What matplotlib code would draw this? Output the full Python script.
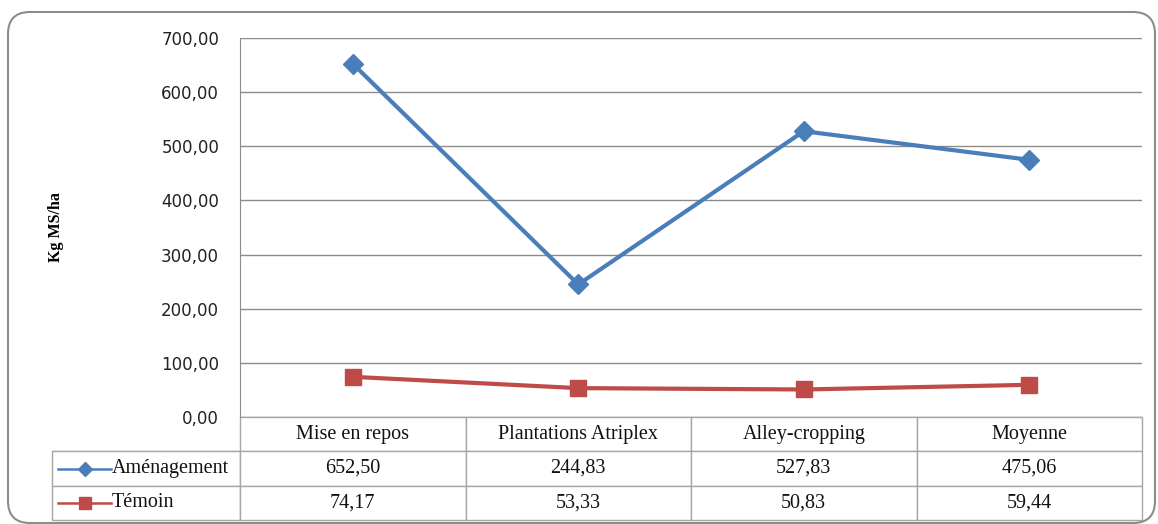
import matplotlib.pyplot as plt
import matplotlib.ticker as mticker
from matplotlib.patches import FancyBboxPatch
from matplotlib.lines import Line2D
from matplotlib.transforms import IdentityTransform

# Data
categories = ["Mise en repos", "Plantations Atriplex", "Alley-cropping", "Moyenne"]
amenagement = [652.50, 244.83, 527.83, 475.06]
temoin = [74.17, 53.33, 50.83, 59.44]
series_names = ["Aménagement", "Témoin"]
y_ticks = [0, 100, 200, 300, 400, 500, 600, 700]

blue = "#4a7ebb"
red = "#be4b48"
grid_col = "#8c8c8c"
W, H = 1158, 524

fig = plt.figure(figsize=(W / 100, H / 100), dpi=100)

# rounded chart frame (pixel coords, y from bottom)
frame = FancyBboxPatch((8, H - 523), 1147, 511,
                       boxstyle="round,pad=0,rounding_size=22",
                       transform=IdentityTransform(), fill=False,
                       edgecolor="#8c8c8c", linewidth=1.5)
fig.patches.append(frame)

ax = fig.add_axes([240 / W, 1 - 417 / H, 902 / W, 379 / H])
x = range(len(categories))
ax.plot(x, amenagement, color=blue, lw=3, marker="D", ms=10, zorder=3)
ax.plot(x, temoin, color=red, lw=3, marker="s", ms=11, zorder=3)

ax.set_xlim(-0.5, len(categories) - 0.5)
ax.set_ylim(0, 700)
ax.set_yticks(y_ticks)
ax.yaxis.set_major_formatter(mticker.FuncFormatter(lambda v, p: f"{v:.2f}".replace(".", ",")))
ax.tick_params(axis="y", length=0, pad=15, labelsize=12, labelcolor="#222222")
ax.set_xticks([])
ax.grid(axis="y", color=grid_col, lw=1)
for s in ["top", "right", "bottom"]:
    ax.spines[s].set_visible(False)
ax.spines["left"].set_color(grid_col)
ax.set_ylabel("Kg MS/ha", family="Liberation Serif", fontweight="bold", fontsize=11.5)
ax.yaxis.set_label_coords((64 - 240) / 902, 0.5)

# data table below the plot, first column holds the series names
cell_text = [[series_names[0]] + [f"{v:.2f}".replace(".", ",") for v in amenagement],
             [series_names[1]] + [f"{v:.2f}".replace(".", ",") for v in temoin]]
tab = ax.table(cellText=cell_text, colLabels=[""] + categories,
               colWidths=[188 / 902] + [225.5 / 902] * 4, cellLoc="center",
               bbox=[-188 / 902, -103 / 379, 1 + 188 / 902, 103 / 379])
tab.auto_set_font_size(False)
for (r, c), cell in tab.get_celld().items():
    cell.set_edgecolor("#a6a6a6")
    cell.set_linewidth(1)
    cell.get_text().set_fontsize(14.5)
    cell.get_text().set_family("Liberation Serif")
    cell.get_text().set_color("#111111")
    if r == 0 and c == 0:
        cell.visible_edges = "B"
    if c == 0 and r > 0:
        cell.get_text().set_ha("left")
        cell._loc = "left"
        cell.PAD = 60 / 188

# legend keys in the row label cells
row_y = [-(469 - 417) / 379, -(503 - 417) / 379]
for yy, col, mk, ms in zip(row_y, [blue, red], ["D", "s"], [7, 9]):
    ax.add_line(Line2D([(58 - 240) / 902, (111 - 240) / 902], [yy, yy], color=col,
                       lw=1.8, transform=ax.transAxes, clip_on=False, zorder=5))
    ax.add_line(Line2D([(85 - 240) / 902], [yy], color=col, marker=mk, ms=ms,
                       transform=ax.transAxes, clip_on=False, zorder=5))

fig.savefig("out.png", dpi=100)
